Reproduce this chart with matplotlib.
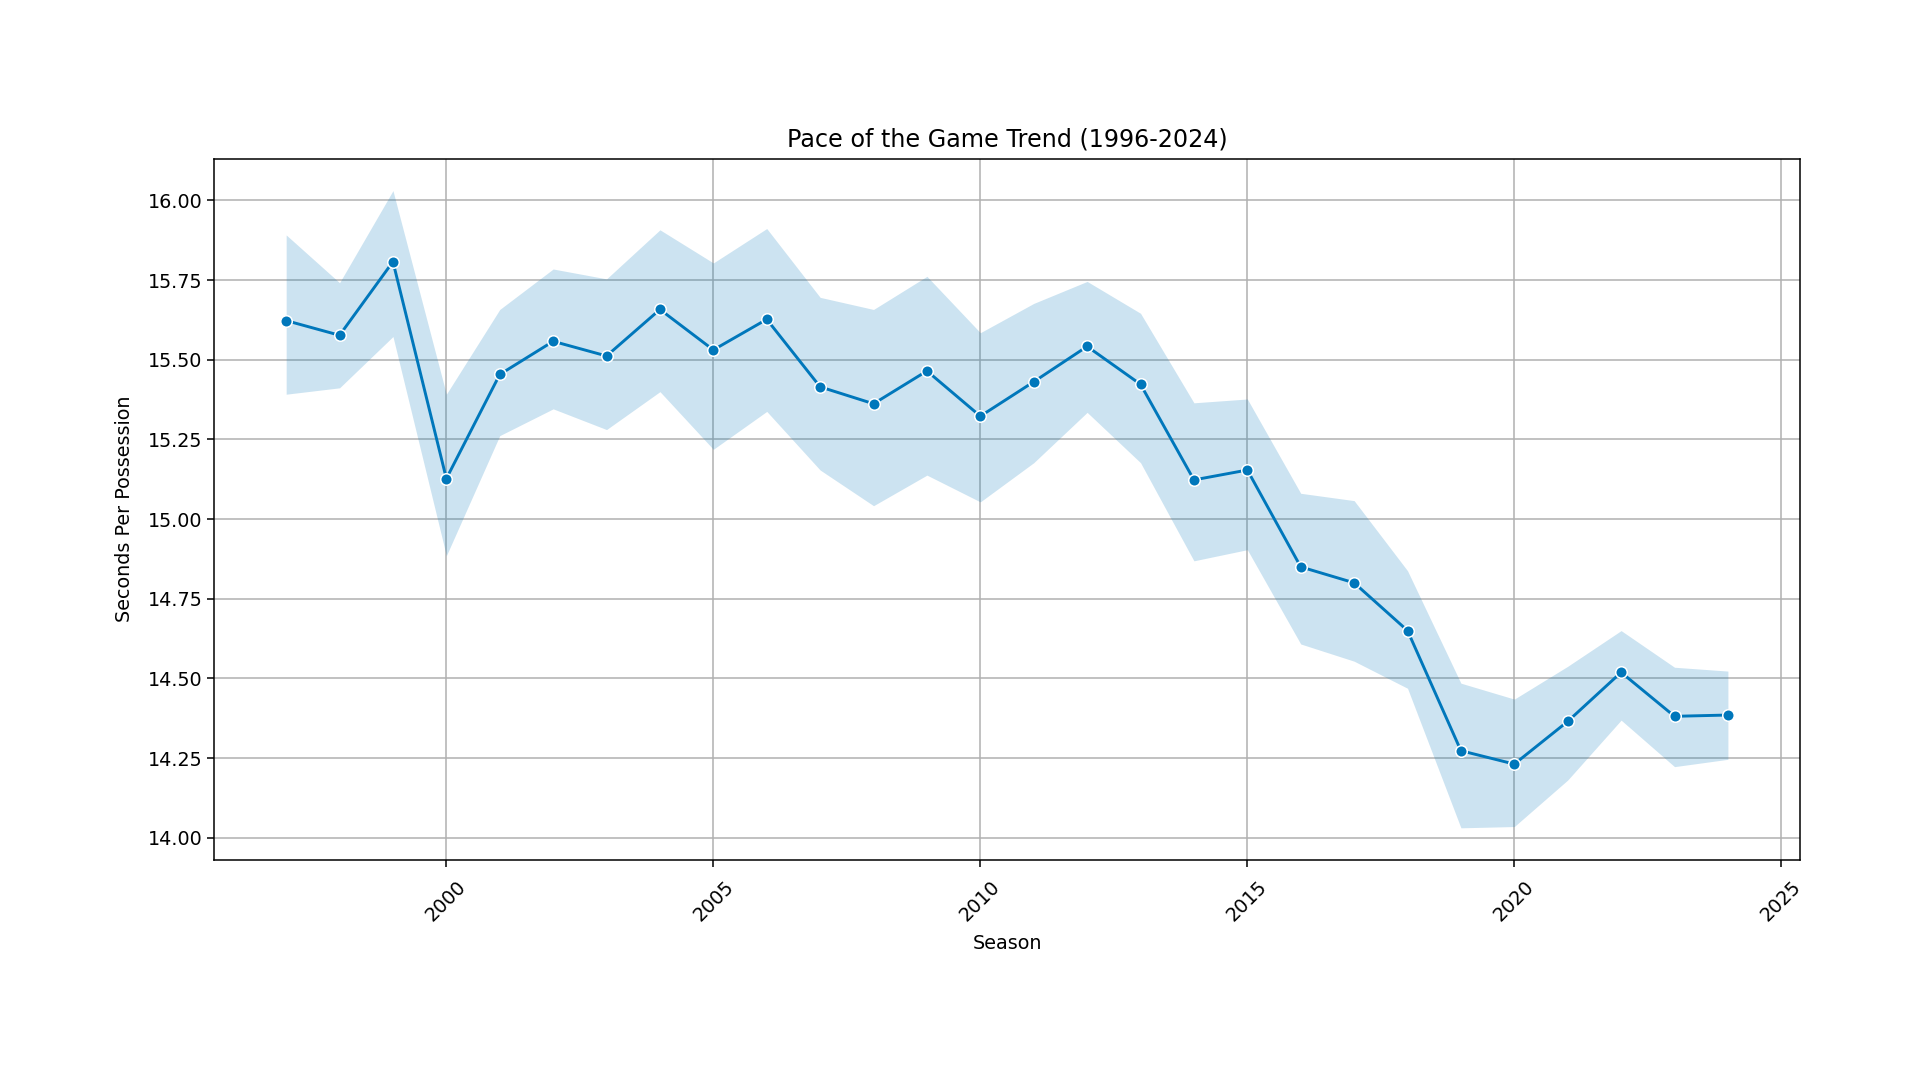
import matplotlib
matplotlib.use("Agg")
import matplotlib.pyplot as plt

seasons = [1997, 1998, 1999, 2000, 2001, 2002, 2003, 2004, 2005, 2006, 2007, 2008, 2009, 2010,
           2011, 2012, 2013, 2014, 2015, 2016, 2017, 2018, 2019, 2020, 2021, 2022, 2023, 2024]
mean_spp = [15.623, 15.577, 15.808, 15.127, 15.454, 15.558, 15.512, 15.658, 15.531, 15.627,
            15.415, 15.362, 15.465, 15.323, 15.431, 15.542, 15.423, 15.123, 15.154, 14.850,
            14.800, 14.650, 14.273, 14.231, 14.365, 14.519, 14.381, 14.385]
ci_upper = [15.892, 15.742, 16.031, 15.392, 15.658, 15.785, 15.754, 15.908, 15.804, 15.912,
            15.696, 15.658, 15.762, 15.585, 15.677, 15.746, 15.646, 15.365, 15.377, 15.081,
            15.058, 14.838, 14.485, 14.435, 14.538, 14.650, 14.535, 14.523]
ci_lower = [15.392, 15.412, 15.573, 14.885, 15.262, 15.346, 15.281, 15.400, 15.219, 15.338,
            15.154, 15.042, 15.138, 15.054, 15.177, 15.335, 15.177, 14.869, 14.904, 14.608,
            14.554, 14.469, 14.031, 14.035, 14.181, 14.369, 14.223, 14.246]

color = "#0077bb"
fs = 13.8

fig = plt.figure(figsize=(19.2, 10.8), dpi=100)
ax = fig.add_axes([0.1115, 0.204, 0.826, 0.649])

ax.fill_between(seasons, ci_lower, ci_upper, color=color, alpha=0.2, linewidth=0)
ax.plot(seasons, mean_spp, color=color, linewidth=2.1, marker="o", markersize=8.3,
        markeredgecolor="white", markeredgewidth=1.1)

ax.set_title("Pace of the Game Trend (1996-2024)", fontsize=17.2, pad=9)
ax.set_xlabel("Season", fontsize=fs, labelpad=6)
ax.set_ylabel("Seconds Per Possession", fontsize=fs, labelpad=10)
ax.grid(True, color="#b0b0b0", linewidth=1.1)
ax.set_axisbelow(True)
ax.tick_params(labelsize=fs, width=1.1, length=4.8)
ax.tick_params(axis="x", pad=8)
for lab in ax.get_xticklabels():
    lab.set_rotation(45)
for s in ax.spines.values():
    s.set_linewidth(1.1)
ax.yaxis.set_major_formatter(matplotlib.ticker.FormatStrFormatter("%.2f"))

fig.savefig("out.png", dpi=100)
